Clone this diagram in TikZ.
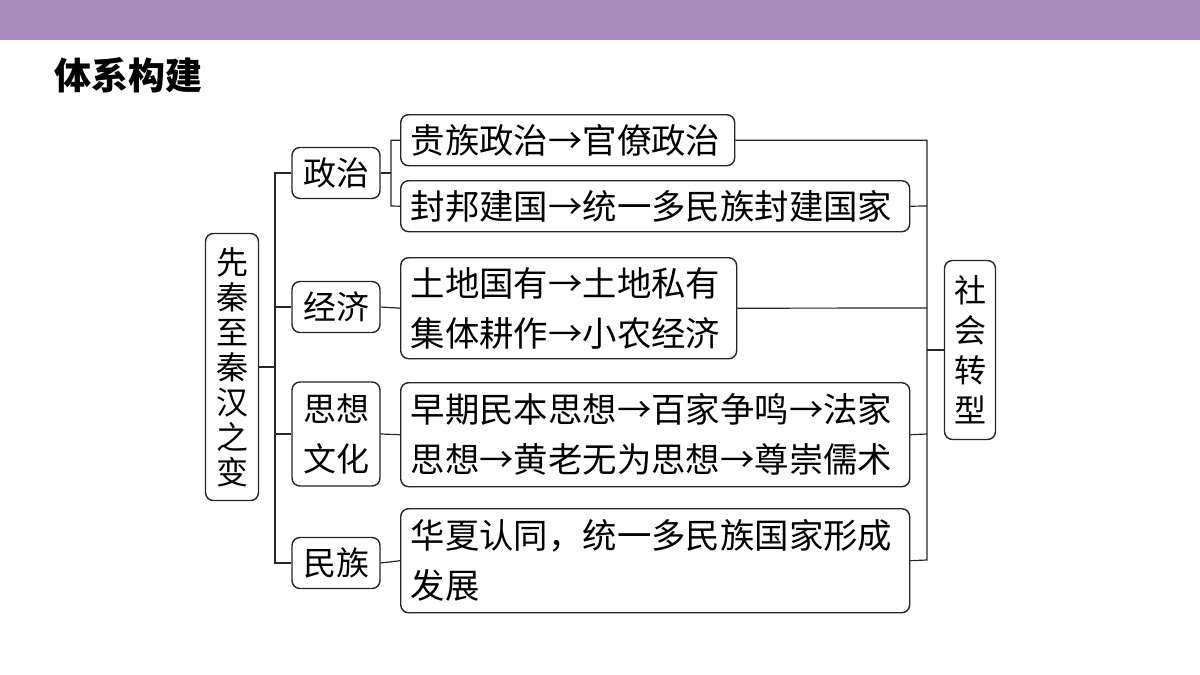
\documentclass[tikz,border=0pt]{standalone}
\usepackage{fontspec}
\setmainfont{Noto Sans CJK SC}
\begin{document}
\begin{tikzpicture}[x=0.5pt,y=-0.5pt,
 box/.style={draw=black!85,line width=0.7pt,rounded corners=4pt,inner sep=0pt,font=\fontsize{16.5}{25}\selectfont},
 tb/.style={box,anchor=north west,align=left,inner xsep=5pt,font=\fontsize{17.2}{25}\selectfont},
 ln/.style={draw=black!85,line width=0.6pt}]
\useasboundingbox (0,0) rectangle (1200,675);
\fill[fill={rgb,255:red,170;green,139;blue,190}] (0,0) rectangle (1200,40);
\node[anchor=west,font=\fontsize{18.5}{20}\selectfont\bfseries,inner xsep=0pt] (title) at (54,75) {体系构建};
\node[box,minimum width=26.5pt,minimum height=133.5pt] (L) at (232,367) {};
\node[font=\fontsize{16}{17.5}\selectfont,align=center] at (L) {先\\秦\\至\\秦\\汉\\之\\变};
\node[box,minimum width=44pt,minimum height=25.5pt] (c1) at (336,173) {政治};
\node[box,minimum width=44pt,minimum height=25.5pt] (c2) at (336,307) {经济};
\node[box,minimum width=44pt,minimum height=52pt,align=center] (c3) at (336,434) {思想\\文化};
\node[box,minimum width=44pt,minimum height=25.5pt] (c4) at (336,563) {民族};
\node[tb,minimum width=167pt,minimum height=25.5pt,text width=157pt] (b1) at (400,114) {贵族政治→官僚政治};
\node[tb,minimum width=254.5pt,minimum height=25.5pt,text width=244.5pt] (b2) at (400,180) {封邦建国→统一多民族封建国家};
\node[tb,minimum width=168pt,minimum height=50.5pt,text width=158pt] (b3) at (400,257) {土地国有→土地私有\\集体耕作→小农经济};
\node[tb,minimum width=254.5pt,minimum height=52pt,text width=244.5pt] (b4) at (400,382) {早期民本思想→百家争鸣→法家\\思想→黄老无为思想→尊崇儒术};
\node[tb,minimum width=254.5pt,minimum height=52pt,text width=244.5pt] (b5) at (400,508) {华夏认同，统一多民族国家形成\\发展};
\node[box,minimum width=25.5pt,minimum height=89.5pt] (R) at (970,350) {};
\node[font=\fontsize{16}{20}\selectfont,align=center] at (R) {社\\会\\转\\型};
% left bracket
\draw[ln] (L.east) -- (275,367);
\draw[ln] (c1.west) -| (275,563) -- (c4.west);
\draw[ln] (275,307) -- (c2.west);
\draw[ln] (275,434) -- (c3.west);
% politics bracket
\draw[ln] (c1.east) -- (391,173);
\draw[ln] (b1.west) -| (391,206) -- (b2.west);
\draw[ln] (c2.east) -- (b3.west);
\draw[ln] (c3.east) -- (b4.west);
\draw[ln] (c4.east) -- (b5.west);
% right bracket
\draw[ln] (b1.east) -| (927,560) -- (b5.east);
\draw[ln] (b2.east) -- (927,206);
\draw[ln] (b3.east) -- (927,308);
\draw[ln] (b4.east) -- (927,434);
\draw[ln] (927,350) -- (R.west);
\end{tikzpicture}
\end{document}
